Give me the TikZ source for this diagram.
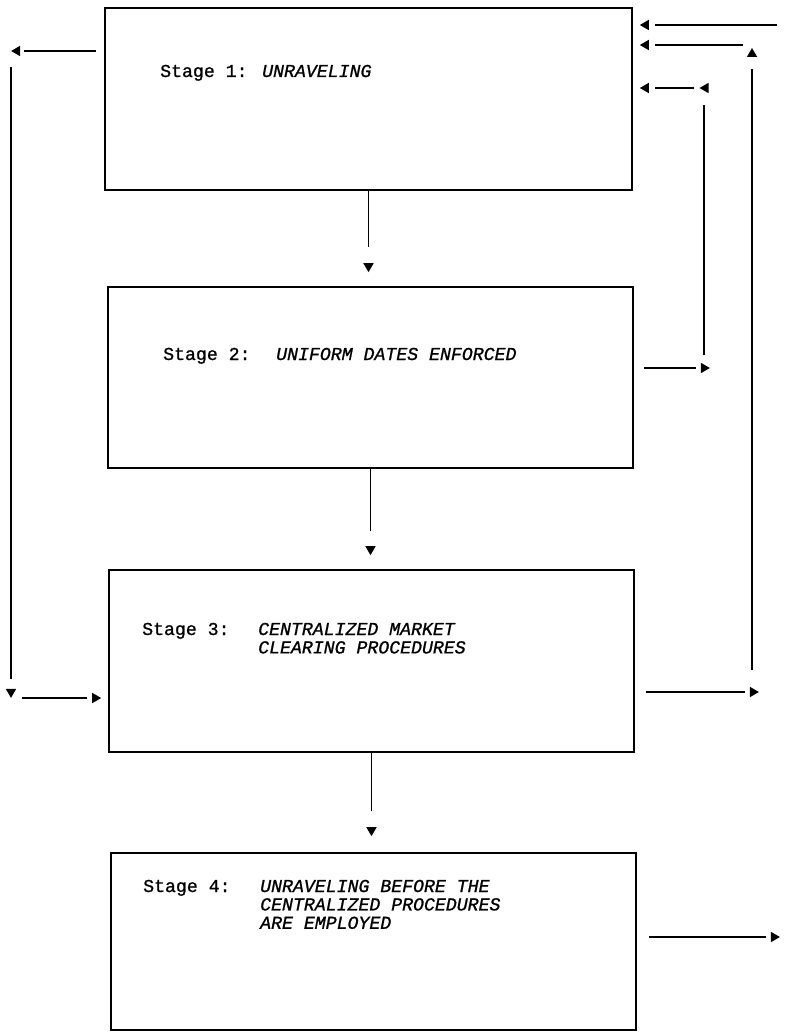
\documentclass[tikz,border=0pt]{standalone}
\usepackage{fontspec}
\newfontfamily\stagefont[FakeBold=1]{Liberation Mono}
\newcommand\stagetext{\stagefont\fontsize{18.2}{18.4}\selectfont}
\usetikzlibrary{arrows.meta,decorations.markings}

\begin{document}
\begin{tikzpicture}[x=1pt, y=-1pt, every node/.style={font=\stagetext, inner sep=0pt},
    b/.style={draw, line width=1.6pt, minimum width=525pt, minimum height=182pt},
    lbl/.style={anchor=base west},
    ti/.style={anchor=base west, font=\stagetext\itshape},
    ln/.style={line width=1.4pt},
    % line, a gap, then the tip (#1 = tip to end of path, #2 = gap)
    a/.style 2 args={ln, shorten >=#1+#2+9pt, postaction={decorate, decoration={markings,
        mark=at position -#1 with {\arrow{Triangle[length=9pt, width=10pt]}}}}},
    st/.style={postaction={decorate, decoration={markings,
        mark=at position #1 with {\arrow{Triangle[length=9pt, width=10pt]}}}}}]
    \useasboundingbox (0,0) rectangle (785,1035);
    \clip (0,0) rectangle (785,1035);

    % the four stages
    \node[b, minimum width=527pt] (b1) at (368.5,99) {};
    \node[b, minimum height=181pt] (b2) at (370.5,377.5) {};
    \node[b] (b3) at (371.5,661) {};
    \node[b, minimum height=177pt] (b4) at (373.5,941.5) {};

    \node[lbl] (s1) at (160,77) {Stage 1:};
    \node[ti] (t1) at (262,77) {UNRAVELING};
    \node[lbl] (s2) at (163,360) {Stage 2:};
    \node[ti] (t2) at (276,360) {UNIFORM DATES ENFORCED};
    \node[lbl] (s3) at (142,635) {Stage 3:};
    \node[ti] (t3) at (258,635) {\begin{tabular}[t]{@{}l@{}}CENTRALIZED MARKET\\CLEARING PROCEDURES\end{tabular}};
    \node[lbl] (s4) at (143,892) {Stage 4:};
    \node[ti] (t4) at (260,892) {\begin{tabular}[t]{@{}l@{}}UNRAVELING BEFORE THE\\CENTRALIZED PROCEDURES\\ARE EMPLOYED\end{tabular}};

    % down the middle
    \draw[a={14pt}{16pt}] (b1.south) -- (b1.south |- b2.north);
    \draw[a={14pt}{15pt}] (b2.south) -- (b2.south |- b3.north);
    \draw[a={16pt}{16pt}] (b3.south) -- (b3.south |- b4.north);

    % round the left side
    \coordinate (l1) at (11,51);
    \coordinate (l2) at (11,698);
    \draw[a={0.1pt}{4pt}, shorten <=8pt] (b1.west |- l1) -- (l1);
    \draw[a={0.1pt}{10pt}, shorten <=16pt] (l1) -- (l2);
    \draw[a={7pt}{5pt}, shorten <=11pt] (l2) -- (b3.west |- l2);

    % round the right side
    \coordinate (r1) at (710,368);
    \coordinate (r2) at (704,88);
    \draw[a={0.1pt}{5pt}, shorten <=10pt] (b2.east |- r1) -- (r1);
    \draw[ln, shorten <=13pt, shorten >=17pt] (r2 |- r1) -- (r2);
    \draw[a={7pt}{6pt}, st=4.5pt, shorten <=10.5pt] (r2) -- (b1.east |- r2);

    \coordinate (r3) at (759,692);
    \coordinate (r4) at (752,45);
    \draw[a={0.1pt}{5pt}, shorten <=11pt] (b3.east |- r3) -- (r3);
    \draw[a={3pt}{12pt}, shorten <=22pt] (r4 |- r3) -- (r4);
    \draw[a={7pt}{6pt}, shorten <=9pt] (r4) -- (b1.east |- r4);

    \coordinate (r5) at (780,937);
    \coordinate (r6) at (785,25);
    \draw[a={0.1pt}{5pt}, shorten <=12pt] (b4.east |- r5) -- (r5);
    \draw[a={7pt}{6pt}, shorten <=8pt] (r6) -- (b1.east |- r6);
\end{tikzpicture}
\end{document}
